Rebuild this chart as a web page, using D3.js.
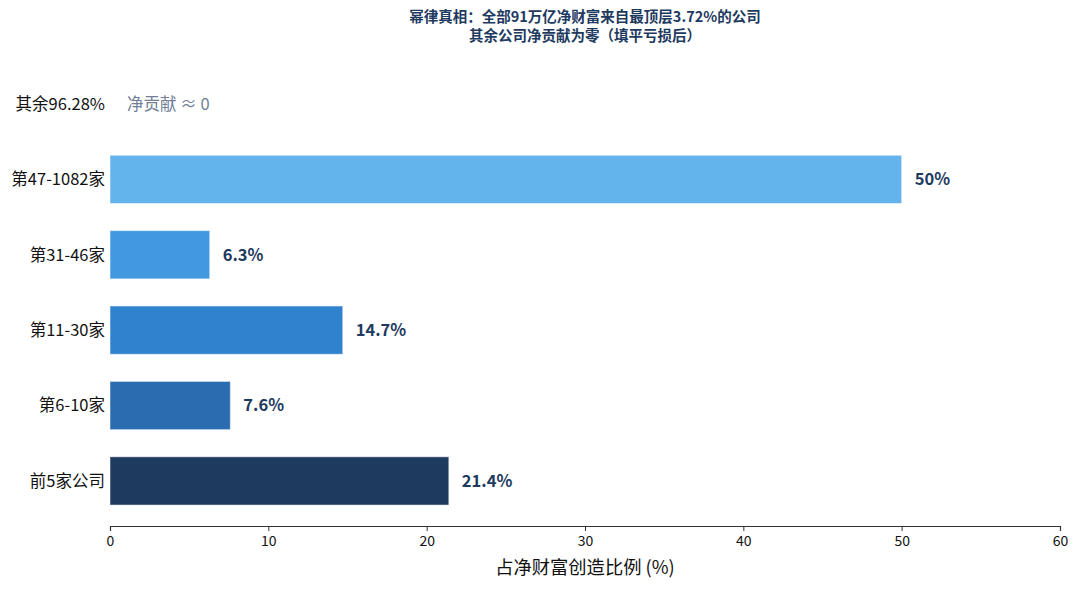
<!DOCTYPE html>
<html>
<head>
<meta charset="utf-8">
<script src="https://cdn.jsdelivr.net/npm/d3@7"></script>
<style>
  body { margin: 0; background: #fff; }
  svg { font-family: "Noto Sans CJK SC", "Noto Sans", sans-serif; }
</style>
</head>
<body>
<svg width="1080" height="590"></svg>
<script>
// Data (top to bottom)
const categories = ["其余96.28%", "第47-1082家", "第31-46家", "第11-30家", "第6-10家", "前5家公司"];
const shares = [0, 50, 6.3, 14.7, 7.6, 21.4];
const valueLabels = ["净贡献 ≈ 0", "50%", "6.3%", "14.7%", "7.6%", "21.4%"];
const barColors = [null, "#63b3ed", "#4299e1", "#3182ce", "#2b6cb0", "#1e3a5f"];
const xTicks = [0, 10, 20, 30, 40, 50, 60];
const titleLines = ["幂律真相：全部91万亿净财富来自最顶层3.72%的公司", "其余公司净贡献为零（填平亏损后）"];

let svg = d3.select("svg");
const left = 110, right = 1060, axisY = 526;

let x = d3.scaleLinear().domain([0, 60]).range([left, right]);
let y = d3.scaleBand().domain(categories).range([52.7, 532.2]).padding(0.36);

let rows = categories.map((c, i) => ({cat: c, v: shares[i], label: valueLabels[i], color: barColors[i]}));

// Bars
svg.append("g").selectAll("rect")
  .data(rows.filter(d => d.v > 0))
  .join("rect")
  .attr("x", x(0))
  .attr("y", d => y(d.cat))
  .attr("width", d => x(d.v) - x(0))
  .attr("height", y.bandwidth())
  .attr("fill", d => d.color)
  .attr("stroke", "#fff")
  .attr("stroke-opacity", 0.5)
  .attr("stroke-width", 1);

// Value labels
svg.append("g").selectAll("text")
  .data(rows)
  .join("text")
  .attr("x", d => d.v > 0 ? x(d.v) + 13 : x(0) + 17)
  .attr("y", d => y(d.cat) + y.bandwidth() / 2)
  .attr("dy", "0.35em")
  .attr("font-size", 16.5)
  .attr("font-weight", d => d.v > 0 ? "bold" : "normal")
  .attr("fill", d => d.v > 0 ? "#1e3a5f" : "#718096")
  .text(d => d.label);

// Category labels
svg.append("g").selectAll("text")
  .data(categories)
  .join("text")
  .attr("x", left - 5)
  .attr("y", d => y(d) + y.bandwidth() / 2)
  .attr("dy", "0.35em")
  .attr("text-anchor", "end")
  .attr("font-size", 16.5)
  .attr("fill", "#111")
  .text(d => d);

// X axis
let xAxis = svg.append("g")
  .attr("transform", `translate(0,${axisY})`)
  .call(d3.axisBottom(x).tickValues(xTicks).tickSize(5).tickPadding(5));
xAxis.select(".domain").attr("stroke", "#333").attr("stroke-width", 1.2);
xAxis.selectAll(".tick line").attr("stroke", "#333");
xAxis.selectAll(".tick text")
  .attr("font-size", 14)
  .attr("fill", "#111")
  .attr("font-family", "'Noto Sans CJK SC', sans-serif");

svg.append("text")
  .attr("x", (left + right) / 2)
  .attr("y", 574)
  .attr("text-anchor", "middle")
  .attr("font-size", 18.3)
  .attr("fill", "#111")
  .text("占净财富创造比例 (%)");

// Title
svg.append("g").selectAll("text")
  .data(titleLines)
  .join("text")
  .attr("x", (left + right) / 2)
  .attr("y", (d, i) => 21.5 + i * 19)
  .attr("text-anchor", "middle")
  .attr("font-size", 14.5)
  .attr("font-weight", "bold")
  .attr("fill", "#1e3a5f")
  .text(d => d);
</script>
</body>
</html>
